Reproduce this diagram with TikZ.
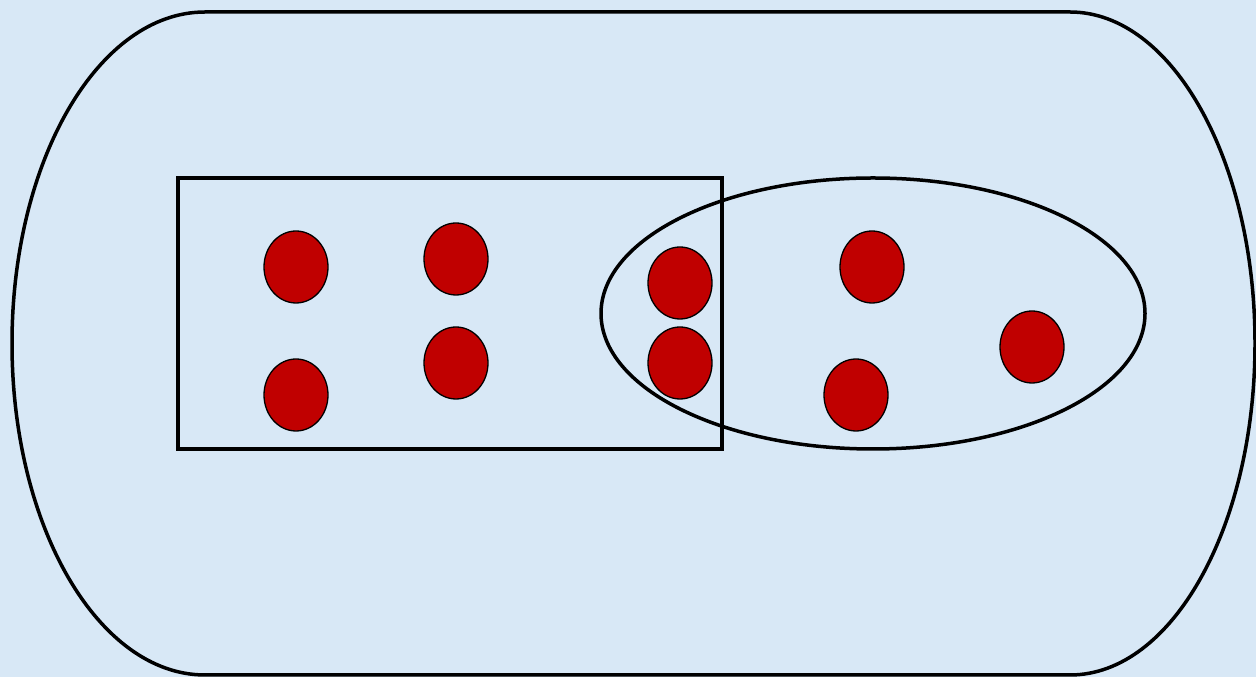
\documentclass[tikz,border=0pt]{standalone}
\usetikzlibrary{shapes.geometric}
\definecolor{bgblue}{RGB}{216,232,246}
\definecolor{dotred}{RGB}{192,0,0}
\begin{document}
\begin{tikzpicture}[x=1pt,y=1pt,
  outline/.style={draw=black,line width=3.5pt},
  dot/.style={ellipse,draw=black,line width=1.3pt,fill=dotred,minimum width=64pt,minimum height=72pt,inner sep=0pt}]
\fill[bgblue] (0,0) rectangle (1256,677);
\useasboundingbox (0,0) rectangle (1256,677);
% outer rounded shape
\draw[outline] (205,665) -- (1070,665)
  arc[start angle=90,end angle=-90,x radius=185,y radius=331.5]
  -- (205,2)
  arc[start angle=270,end angle=90,x radius=193,y radius=331.5] -- cycle;
% rectangle
\draw[outline] (178,499) rectangle (722,228);
% ellipse
\node[outline,ellipse,minimum width=544pt,minimum height=271pt,inner sep=0pt] (ell) at (873,363.5) {};
% dots
\node[dot] (d1) at (296,410) {};
\node[dot] (d2) at (456,418) {};
\node[dot] (d3) at (680,394) {};
\node[dot] (d4) at (296,282) {};
\node[dot] (d5) at (456,314) {};
\node[dot] (d6) at (680,314) {};
\node[dot] (d7) at (872,410) {};
\node[dot] (d8) at (856,282) {};
\node[dot] (d9) at (1032,330) {};
\end{tikzpicture}
\end{document}
